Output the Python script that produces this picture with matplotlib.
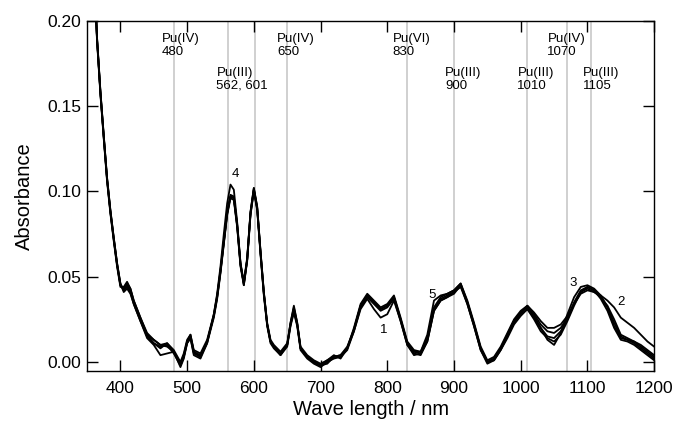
import matplotlib
matplotlib.use("Agg")
import matplotlib.pyplot as plt

plt.rcParams['font.family'] = ['Liberation Sans', 'DejaVu Sans']

# wavelength grid (nm)
wl = [360, 365, 370, 375, 380, 385, 390, 395, 400, 405,
      410, 415, 420, 430, 440, 450, 460, 470, 480, 490,
      495, 500, 505, 510, 520, 530, 540, 545, 550, 555,
      560, 565, 570, 575, 580, 585, 590, 595, 600, 605,
      610, 615, 620, 625, 630, 640, 650, 655, 660, 665,
      670, 680, 690, 700, 710, 720, 730, 740, 750, 760,
      770, 780, 790, 800, 810, 820, 830, 840, 850, 860,
      870, 880, 890, 900, 910, 920, 930, 940, 950, 960,
      970, 980, 990, 1000, 1010, 1020, 1030, 1040, 1050, 1060,
      1070, 1080, 1090, 1100, 1110, 1120, 1130, 1140, 1150, 1160,
      1170, 1180, 1190, 1200]

s1 = [0.236, 0.190, 0.159, 0.133, 0.108, 0.089, 0.073, 0.058, 0.046, 0.042,
      0.044, 0.041, 0.034, 0.024, 0.015, 0.011, 0.009, 0.010, 0.005, -0.002,
      0.003, 0.011, 0.014, 0.005, 0.003, 0.011, 0.026, 0.037, 0.052, 0.069,
      0.086, 0.096, 0.095, 0.079, 0.056, 0.045, 0.059, 0.086, 0.100, 0.089,
      0.063, 0.039, 0.021, 0.011, 0.008, 0.004, 0.009, 0.021, 0.029, 0.021,
      0.007, 0.002, -0.001, -0.003, 0.000, 0.002, 0.003, 0.007, 0.018, 0.031,
      0.037, 0.031, 0.026, 0.028, 0.036, 0.024, 0.010, 0.005, 0.004, 0.012,
      0.030, 0.036, 0.038, 0.041, 0.044, 0.034, 0.021, 0.007, -0.001, 0.001,
      0.007, 0.015, 0.023, 0.028, 0.031, 0.026, 0.020, 0.015, 0.014, 0.018,
      0.025, 0.034, 0.041, 0.043, 0.041, 0.038, 0.032, 0.023, 0.015, 0.013,
      0.011, 0.008, 0.005, 0.002]

s2 = [0.234, 0.188, 0.157, 0.131, 0.106, 0.087, 0.071, 0.056, 0.044, 0.044,
      0.047, 0.043, 0.036, 0.026, 0.017, 0.013, 0.010, 0.011, 0.007, 0.000,
      0.005, 0.013, 0.016, 0.007, 0.005, 0.013, 0.028, 0.039, 0.054, 0.071,
      0.088, 0.098, 0.097, 0.081, 0.058, 0.047, 0.061, 0.088, 0.102, 0.091,
      0.065, 0.041, 0.023, 0.013, 0.010, 0.006, 0.011, 0.023, 0.032, 0.023,
      0.009, 0.004, 0.001, -0.001, 0.001, 0.004, 0.002, 0.008, 0.020, 0.034,
      0.040, 0.036, 0.032, 0.034, 0.039, 0.026, 0.012, 0.007, 0.006, 0.014,
      0.032, 0.038, 0.040, 0.042, 0.046, 0.036, 0.023, 0.009, 0.001, 0.003,
      0.009, 0.017, 0.025, 0.030, 0.033, 0.029, 0.024, 0.020, 0.020, 0.022,
      0.027, 0.034, 0.040, 0.042, 0.041, 0.039, 0.036, 0.032, 0.026, 0.023,
      0.020, 0.016, 0.012, 0.009]

s3 = [0.235, 0.189, 0.158, 0.132, 0.107, 0.088, 0.072, 0.057, 0.045, 0.043,
      0.045, 0.042, 0.035, 0.025, 0.016, 0.013, 0.010, 0.009, 0.006, -0.001,
      0.004, 0.012, 0.015, 0.006, 0.004, 0.012, 0.027, 0.038, 0.053, 0.070,
      0.087, 0.097, 0.096, 0.080, 0.057, 0.046, 0.060, 0.087, 0.101, 0.090,
      0.064, 0.040, 0.022, 0.012, 0.009, 0.005, 0.010, 0.022, 0.031, 0.022,
      0.008, 0.003, 0.000, -0.002, -0.001, 0.003, 0.004, 0.009, 0.019, 0.033,
      0.039, 0.035, 0.031, 0.033, 0.038, 0.025, 0.011, 0.006, 0.005, 0.013,
      0.031, 0.037, 0.039, 0.041, 0.045, 0.035, 0.022, 0.008, 0.000, 0.002,
      0.008, 0.016, 0.024, 0.029, 0.032, 0.027, 0.020, 0.013, 0.010, 0.017,
      0.028, 0.038, 0.044, 0.045, 0.043, 0.039, 0.032, 0.021, 0.014, 0.013,
      0.012, 0.009, 0.006, 0.003]

s4 = [0.236, 0.190, 0.159, 0.133, 0.108, 0.089, 0.073, 0.058, 0.046, 0.041,
      0.043, 0.040, 0.034, 0.024, 0.014, 0.010, 0.004, 0.005, 0.006, -0.003,
      0.002, 0.011, 0.014, 0.004, 0.002, 0.011, 0.028, 0.040, 0.056, 0.075,
      0.093, 0.104, 0.101, 0.082, 0.058, 0.045, 0.060, 0.088, 0.102, 0.091,
      0.065, 0.041, 0.022, 0.012, 0.009, 0.004, 0.010, 0.023, 0.033, 0.023,
      0.008, 0.003, 0.000, -0.002, 0.001, 0.003, 0.004, 0.008, 0.018, 0.032,
      0.038, 0.034, 0.030, 0.032, 0.037, 0.024, 0.010, 0.004, 0.005, 0.012,
      0.030, 0.036, 0.038, 0.040, 0.045, 0.034, 0.021, 0.007, 0.000, 0.001,
      0.007, 0.014, 0.022, 0.027, 0.031, 0.025, 0.018, 0.014, 0.012, 0.016,
      0.024, 0.033, 0.041, 0.044, 0.042, 0.037, 0.030, 0.020, 0.013, 0.012,
      0.010, 0.007, 0.004, 0.001]

s5 = [0.235, 0.189, 0.158, 0.132, 0.107, 0.088, 0.072, 0.057, 0.045, 0.042,
      0.046, 0.043, 0.036, 0.026, 0.016, 0.011, 0.008, 0.011, 0.006, -0.002,
      0.003, 0.012, 0.016, 0.006, 0.003, 0.012, 0.027, 0.038, 0.053, 0.070,
      0.087, 0.097, 0.096, 0.080, 0.057, 0.046, 0.060, 0.087, 0.101, 0.090,
      0.064, 0.040, 0.022, 0.012, 0.009, 0.005, 0.010, 0.022, 0.030, 0.022,
      0.008, 0.003, 0.000, -0.002, 0.000, 0.003, 0.003, 0.008, 0.019, 0.033,
      0.039, 0.035, 0.031, 0.033, 0.038, 0.025, 0.011, 0.006, 0.006, 0.016,
      0.036, 0.039, 0.040, 0.042, 0.046, 0.035, 0.022, 0.008, 0.000, 0.002,
      0.008, 0.016, 0.024, 0.029, 0.033, 0.028, 0.022, 0.018, 0.017, 0.020,
      0.026, 0.035, 0.042, 0.044, 0.042, 0.038, 0.033, 0.025, 0.016, 0.014,
      0.012, 0.010, 0.007, 0.004]

# reference bands
band_wl = [480, 562, 601, 650, 830, 900, 1010, 1070, 1105]
band_text = ["Pu(IV)\n480", "Pu(III)\n562, 601", "Pu(IV)\n650", "Pu(VI)\n830",
             "Pu(III)\n900", "Pu(III)\n1010", "Pu(IV)\n1070", "Pu(III)\n1105"]
band_text_x = [462, 544, 635, 808, 887, 995, 1040, 1093]
band_text_y = [0.193, 0.173, 0.193, 0.193, 0.173, 0.173, 0.193, 0.173]

curve_ids = ["1", "2", "3", "4", "5"]
curve_lab_x = [794, 1150, 1079, 573, 867]
curve_lab_y = [0.019, 0.035, 0.0465, 0.110, 0.039]

fig = plt.figure(figsize=(6.8, 4.25), dpi=100)
ax = fig.add_axes([0.128, 0.127, 0.834, 0.824])

for b in band_wl:
    ax.axvline(b, color='#c4c4c4', lw=1.1, zorder=1)

for s in [s1, s2, s3, s4, s5]:
    ax.plot(wl, s, color='black', lw=1.3, zorder=3)

for t, x, y in zip(band_text, band_text_x, band_text_y):
    ax.text(x, y, t, fontsize=9.5, ha='left', va='top', linespacing=1.1, zorder=4)

for t, x, y in zip(curve_ids, curve_lab_x, curve_lab_y):
    ax.text(x, y, t, fontsize=9.5, ha='center', va='center', zorder=4)

ax.set_xlim(350, 1200)
ax.set_ylim(-0.0053, 0.20)
ax.set_xticks([400, 500, 600, 700, 800, 900, 1000, 1100, 1200])
ax.set_yticks([0.00, 0.05, 0.10, 0.15, 0.20])
ax.set_yticklabels(["0.00", "0.05", "0.10", "0.15", "0.20"])
ax.tick_params(direction='in', length=8, width=1, top=True, right=True,
               labelsize=12.5)
ax.tick_params(axis='x', pad=7)
ax.tick_params(axis='y', pad=4)
for sp in ax.spines.values():
    sp.set_linewidth(1)

ax.set_xlabel("Wave length / nm", fontsize=14.5, labelpad=3)
ax.set_ylabel("Absorbance", fontsize=14.5, labelpad=10)

fig.savefig("out.png", dpi=100)
